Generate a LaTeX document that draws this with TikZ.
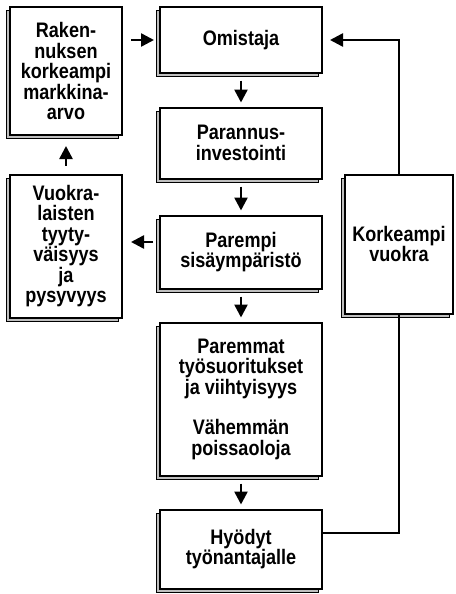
\documentclass[tikz,border=0pt]{standalone}
\usepackage{fontspec}
\setmainfont[FakeStretch=0.86]{Liberation Sans}
\usepackage{tikz}
\usetikzlibrary{arrows.meta,shadows}

\tikzset{
  box/.style={draw=black, fill=white, line width=2pt, align=center,
    inner sep=2pt, font=\bfseries\fontsize{21}{20.5}\selectfont,
    general shadow={shadow xshift=-3.5pt, shadow yshift=-3.5pt,
      fill=gray!50, draw=black, line width=1pt}},
  arr/.style={line width=2.5pt, -{Triangle[length=13pt,width=13pt]}},
  link/.style={line width=2.2pt}
}

\begin{document}
\begin{tikzpicture}[x=1pt,y=-1pt]
\useasboundingbox (0,0) rectangle (455,594);

\node (omistaja) [box, minimum width=162pt, minimum height=65pt] at (241,40) {Omistaja};
\node (parannus) [box, minimum width=162pt, minimum height=71pt] at (241,143) {Parannus-\\investointi};
\node (parempi) [box, minimum width=162pt, minimum height=73pt] at (241,252) {Parempi\\sisäympäristö};
\node (paremmat) [box, minimum width=162pt, minimum height=153pt] at (241,399) {Paremmat\\työsuoritukset\\ja viihtyisyys\\[20pt]Vähemmän\\poissaoloja};
\node (hyodyt) [box, minimum width=162pt, minimum height=79pt] at (241,549) {Hyödyt\\työnantajalle};

\node (rakennus) [box, minimum width=112pt, minimum height=128pt] at (66,71) {Raken-\\nuksen\\korkeampi\\markkina-\\arvo};
\node (vuokralaiset) [box, minimum width=112pt, minimum height=143pt] at (66,246) {Vuokra-\\laisten\\tyyty-\\väisyys\\ja\\pysyvyys};

\node (vuokra) [box, minimum width=108pt, minimum height=139pt] at (399,244) {Korkeampi\\vuokra};

% main chain
\draw [arr, shorten <=7pt, shorten >=4pt] (omistaja.south) -- (parannus.north);
\draw [arr, shorten <=7pt, shorten >=4pt] (parannus.south) -- (parempi.north);
\draw [arr, shorten <=7pt, shorten >=4pt] (parempi.south) -- (paremmat.north);
\draw [arr, shorten <=7pt, shorten >=4pt] (paremmat.south) -- (hyodyt.north);

% left side
\draw [arr, shorten <=6pt, shorten >=8pt] (parempi.west |- 0,242) -- (vuokralaiset.east |- 0,242);
\draw [arr, shorten <=8pt, shorten >=10pt] (vuokralaiset.north) -- (rakennus.south);
\draw [arr, shorten <=8pt, shorten >=5pt] (rakennus.east |- omistaja.west) -- (omistaja.west);

% feedback loop
\draw [link] ([yshift=16pt]hyodyt.east) -| (vuokra.south);
\draw [arr, shorten >=7pt] (vuokra.north) |- (omistaja.east);
\end{tikzpicture}
\end{document}
